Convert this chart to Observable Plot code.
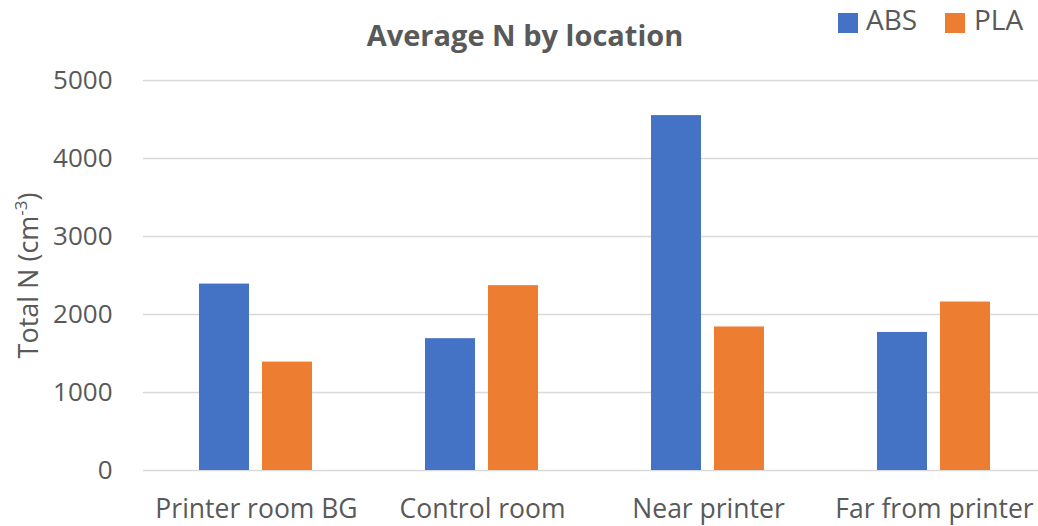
<!DOCTYPE html>
<html>
<head>
<meta charset="utf-8">
<script src="https://cdn.jsdelivr.net/npm/d3@7"></script>
<script src="https://cdn.jsdelivr.net/npm/@observablehq/plot@0.6"></script>
<style>
  html, body { margin: 0; padding: 0; background: #fff; overflow: hidden; }
  body { width: 1038px; height: 526px; font-family: "Open Sans", "Noto Sans", sans-serif; color: #595959; }
  #head { position: relative; width: 1038px; height: 60px; }
  #title { position: absolute; left: 525px; top: 20px; transform: translateX(-50%); font-size: 29px; font-weight: bold; white-space: nowrap; line-height: 1; }
  .key { position: absolute; top: 13px; width: 20px; height: 20px; }
  .keylab { position: absolute; top: 5px; font-size: 28px; line-height: 1; white-space: nowrap; }
  #chart svg { overflow: hidden; display: block; }
</style>
</head>
<body>
<div id="head">
  <div id="title">Average N by location</div>
  <div id="legend"></div>
</div>
<div id="chart"></div>
<script>
// Average particle number concentration per sampling location
const locations = ["Printer room BG", "Control room", "Near printer", "Far from printer"];
const series = ["ABS", "PLA"];
const absValues = [2390, 1690, 4550, 1770];
const plaValues = [1390, 2370, 1840, 2160];
const yTicks = [0, 1000, 2000, 3000, 4000, 5000];
const colors = ["#4472C4", "#ED7D31"];

const rows = locations.flatMap((loc, i) => [
  {location: loc, material: "ABS", value: absValues[i]},
  {location: loc, material: "PLA", value: plaValues[i]}
]);

// legend
const legend = document.getElementById("legend");
const legendPos = [{box: 838, text: 866}, {box: 945, text: 974}];
series.forEach((s, i) => {
  const box = document.createElement("div");
  box.className = "key";
  box.style.left = legendPos[i].box + "px";
  box.style.background = colors[i];
  const lab = document.createElement("div");
  lab.className = "keylab";
  lab.style.left = legendPos[i].text + "px";
  lab.textContent = s;
  legend.append(box, lab);
});

const chart = Plot.plot({
  width: 1038,
  height: 466,
  marginTop: 20,
  marginBottom: 56,
  marginLeft: 142,
  marginRight: -9,
  style: {fontFamily: "'Open Sans', 'Noto Sans', sans-serif", color: "#595959", background: "#fff"},
  fx: {domain: locations, padding: 0},
  x: {domain: series, paddingInner: 0.205, paddingOuter: 0.888, axis: null},
  y: {domain: [0, 5000]},
  color: {domain: series, range: colors},
  marks: [
    Plot.ruleY(yTicks, {stroke: "#d9d9d9", strokeWidth: 1.5}),
    Plot.barY(rows, {fx: "location", x: "material", y: "value", fill: "material"}),
    Plot.axisFx({anchor: "bottom", tickSize: 0, tickPadding: 29, fontSize: 26.5, label: null}),
    Plot.axisY({ticks: yTicks, tickFormat: d => String(d), tickSize: 0, tickPadding: 31, fontSize: 26,
                label: "Total N (cm-3)", labelAnchor: "center", labelArrow: "none", labelOffset: 125})
  ]
});
document.getElementById("chart").append(chart);

// superscript for the unit in the y-axis label
const yl = d3.select(chart).select('[aria-label="y-axis label"] text');
if (!yl.empty()) {
  yl.text(null).attr("font-size", 27);
  yl.append("tspan").text("Total N (cm");
  yl.append("tspan").attr("baseline-shift", "super").attr("font-size", 17).text("-3");
  yl.append("tspan").text(")");
}
</script>
</body>
</html>
